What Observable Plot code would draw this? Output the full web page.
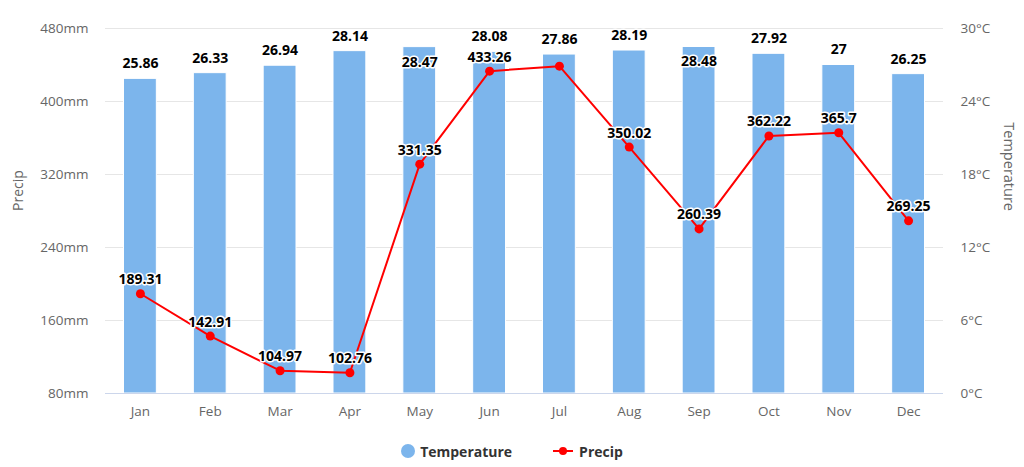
<!DOCTYPE html>
<html>
<head>
<meta charset="utf-8">
<script src="https://cdn.jsdelivr.net/npm/d3@7"></script>
<script src="https://cdn.jsdelivr.net/npm/@observablehq/plot@0.6"></script>
<style>
  body { margin: 0; background: #fff; font-family: "Open Sans", sans-serif; overflow: hidden; }
  #chart svg { display: block; }
  .legend { display: flex; justify-content: center; align-items: center; gap: 40px; height: 42px; margin-top: 5px; font-size: 14px; font-weight: bold; color: #333; }
  .legend .item { display: flex; align-items: center; gap: 5px; }
  .legend .swatch-dot { width: 14px; height: 14px; border-radius: 50%; background: #7cb5ec; }
</style>
</head>
<body>
<div id="chart"></div>
<div class="legend">
  <div class="item"><span class="swatch-dot"></span><span>Temperature</span></div>
  <div class="item"><svg width="22" height="12"><line x1="1" y1="6" x2="21" y2="6" stroke="#ff0000" stroke-width="2"/><circle cx="11" cy="6" r="4" fill="#ff0000"/></svg><span>Precip</span></div>
</div>
<script>
const months = ["Jan","Feb","Mar","Apr","May","Jun","Jul","Aug","Sep","Oct","Nov","Dec"];
const temperature = [25.86, 26.33, 26.94, 28.14, 28.47, 28.08, 27.86, 28.19, 28.48, 27.92, 27, 26.25];
const precip = [189.31, 142.91, 104.97, 102.76, 331.35, 433.26, 438.7, 350.02, 260.39, 362.22, 365.7, 269.25];
const precipTicks = [80, 160, 240, 320, 400, 480];
const tempTicks = [0, 6, 12, 18, 24, 30];

// map temperature (0–30 °C) onto the precip axis (80–480 mm)
const pMin = 80, pMax = 480, tMin = 0, tMax = 30;
const t2p = t => pMin + (t - tMin) * (pMax - pMin) / (tMax - tMin);

const rows = months.map((m, i) => ({month: m, temp: temperature[i], tempP: t2p(temperature[i]), precip: precip[i]}));
// bar labels that would overflow the top of the plot are drawn inside the bar
const plotH = 365;
const overflow = d => d.tempP > pMax - 22 * (pMax - pMin) / plotH;
const halo = {stroke: "white", strokeWidth: 3, fill: "#000", fontSize: 14, fontWeight: "bold"};

const chart = Plot.plot({
  width: 1024,
  height: 425,
  marginTop: 28,
  marginBottom: 32,
  marginLeft: 105,
  marginRight: 81,
  style: {fontFamily: "Open Sans, sans-serif", fontSize: "13.5px", color: "#666", background: "#fff"},
  x: {domain: months, paddingInner: 0.53, paddingOuter: 0.265, round: false, label: null},
  y: {domain: [pMin, pMax], label: null},
  marks: [
    Plot.ruleY(precipTicks.filter(v => v !== pMin), {stroke: "#e6e6e6"}),
    Plot.barY(rows, {x: "month", y1: pMin, y2: "tempP", fill: "#7cb5ec", stroke: "white", strokeWidth: 1}),
    Plot.ruleY([pMin], {stroke: "#ccd6eb"}),
    Plot.axisX({tickSize: 0, tickPadding: 13, fontSize: 13.5, fill: "#666"}),
    Plot.axisY({anchor: "left", ticks: precipTicks, tickSize: 0, tickPadding: 17, fontSize: 13.5, tickFormat: d => d + "mm", fill: "#666"}),
    Plot.axisY({anchor: "right", ticks: tempTicks.map(t2p), tickSize: 0, tickPadding: 17, fontSize: 13.5, tickFormat: v => Math.round((v - pMin) * (tMax - tMin) / (pMax - pMin)) + "°C", fill: "#666"}),
    Plot.text(["Precip"], {frameAnchor: "left", dx: -87, rotate: -90, text: d => d, fill: "#666", fontSize: 14}),
    Plot.text(["Temperature"], {frameAnchor: "right", dx: 65, rotate: 90, text: d => d, fill: "#666", fontSize: 14.5}),
    Plot.line(rows, {x: "month", y: "precip", stroke: "#ff0000", strokeWidth: 2}),
    Plot.dot(rows, {x: "month", y: "precip", fill: "#ff0000", r: 4.5}),
    Plot.text(rows.filter(d => !overflow(d)), {x: "month", y: "tempP", text: d => String(d.temp), dy: -15, ...halo}),
    Plot.text(rows.filter(d => overflow(d)), {x: "month", y: "tempP", text: d => String(d.temp), dy: 15, ...halo}),
    // Jul precip label is hidden in the original (it overlaps the bar label)
    Plot.text(rows.filter(d => d.month !== "Jul"), {x: "month", y: "precip", text: d => String(d.precip), dy: -14, ...halo})
  ]
});
document.getElementById("chart").append(chart);
</script>
</body>
</html>
